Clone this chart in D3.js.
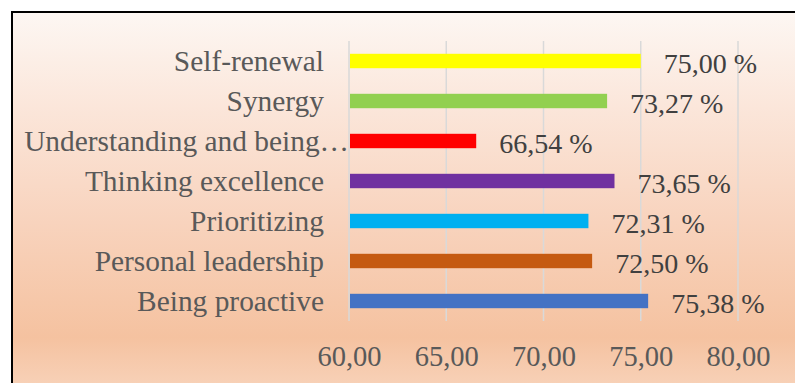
<!DOCTYPE html>
<html>
<head>
<meta charset="utf-8">
<script src="https://cdn.jsdelivr.net/npm/d3@7"></script>
<style>
  html, body { margin: 0; padding: 0; background: #ffffff; }
  svg { display: block; }
</style>
</head>
<body>
<svg id="chart" width="795" height="383"></svg>
<script>
const categories = ["Self-renewal", "Synergy", "Understanding and being\u2026", "Thinking excellence", "Prioritizing", "Personal leadership", "Being proactive"];
const values = [75.00, 73.27, 66.54, 73.65, 72.31, 72.50, 75.38];
const colors = ["#ffff00", "#92d050", "#ff0000", "#7030a0", "#00b0f0", "#c55a11", "#4472c4"];
const tickValues = [60, 65, 70, 75, 80];

const fmt = v => v.toFixed(2).replace(".", ",");
const svg = d3.select("#chart");
const W = 795, H = 383;

const defs = svg.append("defs");
const grad = defs.append("linearGradient").attr("id", "bg").attr("x1", 0).attr("y1", 0).attr("x2", 0).attr("y2", 1);
[[0, "#fdf7f3"], [0.25, "#fbe6da"], [0.55, "#f8d3bd"], [0.85, "#f5c2a0"], [1, "#f8d4bc"]].forEach(([o, c]) =>
  grad.append("stop").attr("offset", o).attr("stop-color", c));

svg.append("rect").attr("x", 12).attr("y", 12).attr("width", W).attr("height", H)
  .attr("fill", "url(#bg)").attr("stroke", "#000").attr("stroke-width", 2);

const x = d3.scaleLinear().domain([60, 80]).range([349, 738]);
const y = d3.scaleBand().domain(categories).range([41, 321]).paddingInner(0.64).paddingOuter(0.32);

const font = "'Liberation Serif', 'Times New Roman', serif";

// gridlines
svg.append("g").selectAll("line").data(tickValues).join("line")
  .attr("x1", d => x(d)).attr("x2", d => x(d))
  .attr("y1", 41).attr("y2", 321)
  .attr("stroke", "#d9d9d9").attr("stroke-width", 1.5);

// bars
svg.append("g").selectAll("rect").data(categories).join("rect")
  .attr("x", x(60) + 1)
  .attr("y", d => y(d))
  .attr("width", (d, i) => x(values[i]) - x(60) - 1)
  .attr("height", y.bandwidth())
  .attr("fill", (d, i) => colors[i]);

// category labels
svg.append("g").selectAll("text").data(categories).join("text")
  .attr("x", (d, i) => i === 2 ? 349 : 324)
  .attr("y", d => y(d) + y.bandwidth() / 2 + 10)
  .attr("text-anchor", "end")
  .attr("font-family", font).attr("font-size", 29.4)
  .attr("fill", "#595959")
  .text(d => d);

// value labels
svg.append("g").selectAll("text").data(categories).join("text")
  .attr("x", (d, i) => x(values[i]) + 23)
  .attr("y", d => y(d) + y.bandwidth() / 2 + 11.5)
  .attr("font-family", font).attr("font-size", 28)
  .attr("fill", "#404040")
  .text((d, i) => fmt(values[i]) + " %");

// x axis
const axis = svg.append("g").attr("transform", "translate(0,321)")
  .call(d3.axisBottom(x).tickValues(tickValues).tickFormat(fmt).tickSize(0).tickPadding(0));
axis.select(".domain").remove();
axis.selectAll("text")
  .attr("y", 45).attr("dy", null)
  .attr("font-family", font).attr("font-size", 28.5)
  .attr("fill", "#595959");
</script>
</body>
</html>
